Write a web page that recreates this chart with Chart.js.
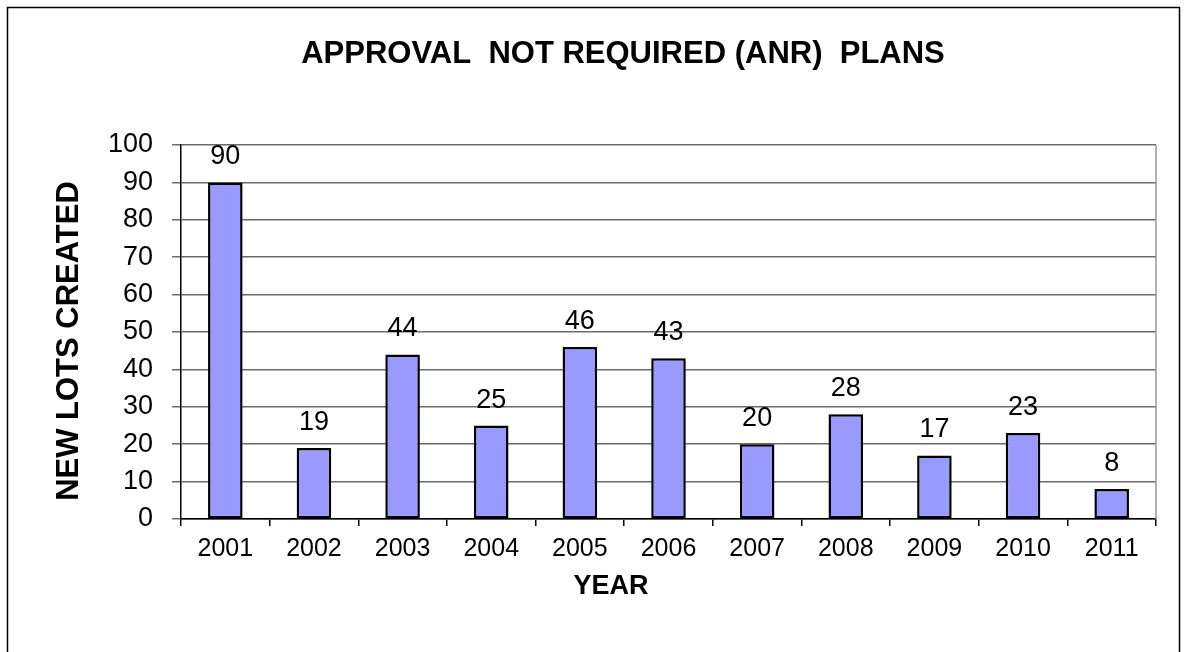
<!DOCTYPE html>
<html lang="en">
<head>
    <meta charset="UTF-8">
    <title>Approval Not Required (ANR) Plans</title>
    <style>
        html, body {
            margin: 0;
            padding: 0;
            background-color: #ffffff;
        }
        .chart-box {
            position: relative;
            width: 1185px;
            height: 652px;
        }
    </style>
    <script src="https://cdn.jsdelivr.net/npm/chart.js"></script>
</head>
<body>
    <div class="chart-box">
        <canvas id="anrChart"></canvas>
    </div>
    <script>
        // datos del grafico
        const years = ['2001', '2002', '2003', '2004', '2005', '2006', '2007', '2008', '2009', '2010', '2011'];
        const newLots = [90, 19, 44, 25, 46, 43, 20, 28, 17, 23, 8];
        const chartTitle = 'APPROVAL  NOT REQUIRED (ANR)  PLANS';
        const yTitle = 'NEW LOTS CREATED';
        const xTitle = 'YEAR';

        const fontFamily = '"Liberation Sans", Arial, Helvetica, sans-serif';

        // marco exterior, borde derecho del area y titulos
        const framePlugin = {
            id: 'frame',
            afterDraw(chart) {
                const ctx = chart.ctx;
                const area = chart.chartArea;
                ctx.save();
                ctx.strokeStyle = '#000000';
                ctx.lineWidth = 1.5;
                ctx.beginPath();
                ctx.moveTo(7.5, 700);
                ctx.lineTo(7.5, 7.5);
                ctx.lineTo(1179.5, 7.5);
                ctx.lineTo(1179.5, 700);
                ctx.stroke();

                ctx.strokeStyle = '#9a9a9a';
                ctx.lineWidth = 1.5;
                ctx.beginPath();
                ctx.moveTo(area.right, area.top);
                ctx.lineTo(area.right, area.bottom);
                ctx.stroke();

                ctx.fillStyle = '#000000';
                ctx.textAlign = 'center';

                // titulo principal
                ctx.font = 'bold 31px ' + fontFamily;
                ctx.textBaseline = 'alphabetic';
                ctx.fillText(chartTitle, 623, 63);

                // titulo eje x
                ctx.font = 'bold 27px ' + fontFamily;
                ctx.textBaseline = 'middle';
                ctx.fillText(xTitle, 611, 587);

                // titulo eje y
                ctx.translate(69, 341);
                ctx.rotate(-Math.PI / 2);
                ctx.font = 'bold 31px ' + fontFamily;
                ctx.textBaseline = 'middle';
                ctx.fillText(yTitle, 0, 0);
                ctx.restore();
            }
        };

        // valores encima de cada barra
        const valueLabels = {
            id: 'valueLabels',
            afterDatasetsDraw(chart) {
                const ctx = chart.ctx;
                const meta = chart.getDatasetMeta(0);
                ctx.save();
                ctx.fillStyle = '#000000';
                ctx.font = '27px ' + fontFamily;
                ctx.textAlign = 'center';
                ctx.textBaseline = 'alphabetic';
                meta.data.forEach((bar, i) => {
                    ctx.fillText(String(newLots[i]), bar.x, bar.y - 18);
                });
                ctx.restore();
            }
        };

        const ctx = document.getElementById('anrChart').getContext('2d');
        new Chart(ctx, {
            type: 'bar',
            data: {
                labels: years,
                datasets: [{
                    label: yTitle,
                    data: newLots,
                    backgroundColor: '#9999ff',
                    borderColor: '#000000',
                    borderWidth: 2.5,
                    borderSkipped: false,
                    categoryPercentage: 1,
                    barPercentage: 0.39
                }]
            },
            options: {
                responsive: true,
                maintainAspectRatio: false,
                animation: false,
                layout: {
                    padding: { top: 145, right: 29, bottom: 0, left: 0 }
                },
                plugins: {
                    legend: { display: false },
                    title: { display: false },
                    tooltip: { enabled: false }
                },
                scales: {
                    x: {
                        afterFit(scale) { scale.height = 133; },
                        grid: {
                            drawOnChartArea: false,
                            drawTicks: true,
                            tickLength: 7,
                            color: '#000000',
                            lineWidth: 1.5
                        },
                        border: { color: '#000000', width: 1.5 },
                        ticks: {
                            color: '#000000',
                            padding: 8,
                            font: { family: fontFamily, size: 25 }
                        }
                    },
                    y: {
                        min: 0,
                        max: 100,
                        afterFit(scale) { scale.width = 181; },
                        grid: {
                            color: '#6a6a6a',
                            lineWidth: 1.5,
                            tickLength: 9
                        },
                        border: { color: '#000000', width: 1.5 },
                        ticks: {
                            stepSize: 10,
                            color: '#000000',
                            padding: 19,
                            font: { family: fontFamily, size: 27 }
                        }
                    }
                }
            },
            plugins: [framePlugin, valueLabels]
        });
    </script>
</body>
</html>
